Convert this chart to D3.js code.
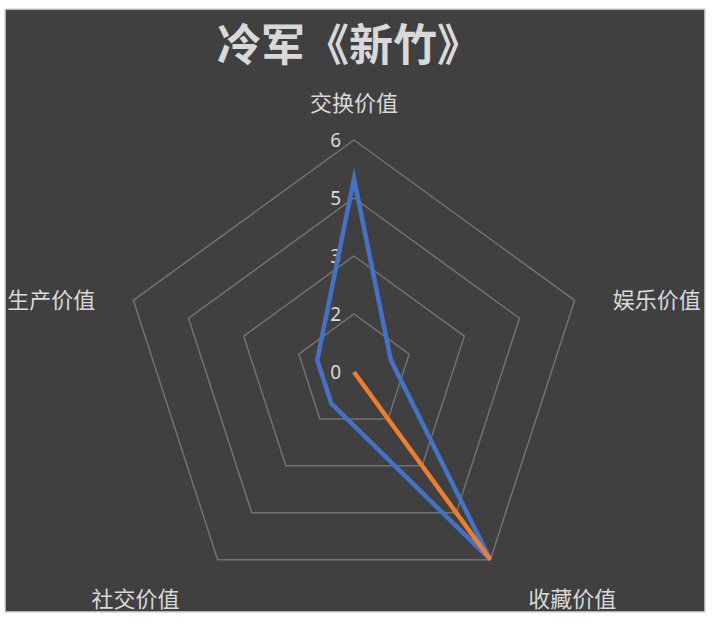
<!DOCTYPE html>
<html>
<head>
<meta charset="utf-8">
<script src="https://cdn.jsdelivr.net/npm/d3@7"></script>
<style>
  html, body { margin: 0; padding: 0; background: #ffffff; }
  svg { display: block; }
</style>
</head>
<body>
<svg id="chart" width="716" height="624"></svg>
<script>
// ---- data ----
const title = "冷军《新竹》";
const axes = ["交换价值", "娱乐价值", "收藏价值", "社交价值", "生产价值"];
const seriesNames = ["系列1", "系列2"];
const seriesA = [5, 1, 6, 1, 1];   // blue
const seriesB = [0, 0, 6, 0, 0];   // orange
const tickValues = [0, 1.5, 3, 4.5, 6];
const tickLabels = ["0", "2", "3", "5", "6"];
const maxValue = 6;

// ---- layout ----
const svg = d3.select("#chart");
const cx = 354, cy = 372, R = 232;
const colors = ["#4472C4", "#ED7D31"];

// chart background & border
svg.append("rect").attr("x", 5).attr("y", 9).attr("width", 700).attr("height", 603)
  .attr("fill", "#404040").attr("stroke", "#d9d9d9").attr("stroke-width", 1.5);

const r = d3.scaleLinear().domain([0, maxValue]).range([0, R]);
const angle = d3.scaleLinear().domain([0, axes.length]).range([0, 2 * Math.PI]);

function pt(i, v) {
  const a = angle(i);
  return [cx + r(v) * Math.sin(a), cy - r(v) * Math.cos(a)];
}

// grid pentagons
const g = svg.append("g");
tickValues.filter(t => t > 0).forEach(t => {
  g.append("polygon")
    .attr("points", axes.map((_, i) => pt(i, t).join(",")).join(" "))
    .attr("fill", "none").attr("stroke", "#727272").attr("stroke-width", 1.5);
});

// tick labels
tickValues.forEach((t, k) => {
  const p = pt(0, t);
  g.append("text").attr("x", p[0] - 13).attr("y", p[1])
    .attr("text-anchor", "end").attr("dominant-baseline", "central")
    .attr("font-family", "'Noto Sans', 'Open Sans', sans-serif")
    .attr("font-size", 19).attr("fill", "#d9d9d9")
    .text(tickLabels[k]);
});

// series lines
const line = d3.line().curve(d3.curveLinearClosed);
[seriesA, seriesB].forEach((s, si) => {
  g.append("path")
    .attr("d", line(s.map((v, i) => pt(i, v))))
    .attr("fill", "none").attr("stroke", colors[si]).attr("stroke-width", 4.5)
    .attr("stroke-linejoin", "miter").attr("stroke-miterlimit", 5.5);
});

// axis labels
axes.forEach((name, i) => {
  const p = pt(i, maxValue);
  const a = angle(i);
  const s = Math.sin(a), c = Math.cos(a);
  let x = p[0], y = p[1], anchor = "middle";
  if (Math.abs(s) < 0.1) { y -= 39; }
  else {
    anchor = s > 0 ? "start" : "end";
    x += s > 0 ? 38 : -38;
    y += c > 0 ? -2 : 37;
  }
  svg.append("text").attr("x", x).attr("y", y)
    .attr("text-anchor", anchor).attr("dominant-baseline", "central")
    .attr("font-family", "'Noto Sans CJK SC', sans-serif")
    .attr("font-size", 22).attr("fill", "#d9d9d9")
    .text(name);
});

// title
svg.append("text").attr("x", 349).attr("y", 42)
  .attr("text-anchor", "middle").attr("dominant-baseline", "central")
  .attr("font-family", "'Noto Sans CJK SC', sans-serif")
  .attr("font-weight", "bold").attr("font-size", 44).attr("fill", "#d9d9d9")
  .text(title);
</script>
</body>
</html>
